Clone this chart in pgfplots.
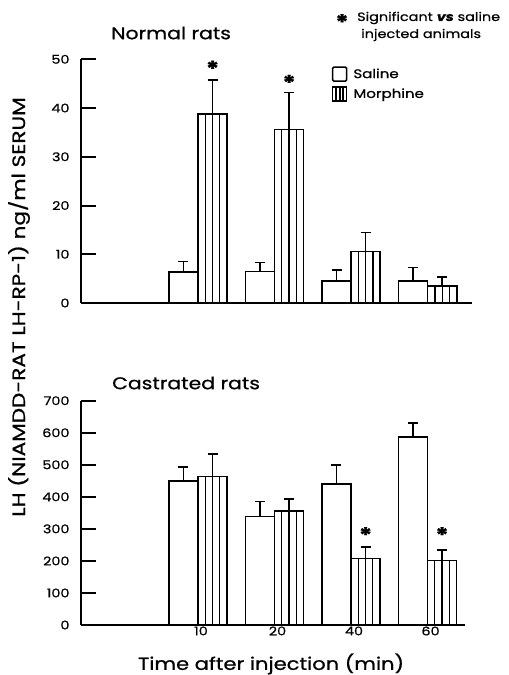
\documentclass[border=0pt]{standalone}
\usepackage{fontspec}
\setmainfont{Poppins}[FakeStretch=1.2, FakeBold=0.8]
\usepackage{pgfplots}
\usepackage{pgfplotstable}
\pgfplotsset{compat=1.18}

\pgfplotstableread{
x y e
1 6.3 2.2
2 6.5 1.8
3 4.5 2.3
4 4.5 2.8
}\topsal
\pgfplotstableread{
x y e
1 38.8 6.9
2 35.6 7.6
3 10.6 3.9
4 3.5 1.8
}\topmor
\pgfplotstableread{
x y e
1 450 44
2 338 47
3 440 59
4 586 44
}\botsal
\pgfplotstableread{
x y e
1 463 71
2 356 37
3 207 37
4 201 33
}\botmor

\pgfplotsset{
  panel/.style={
    scale only axis,
    axis x line=bottom, axis y line=left,
    axis line style={-, line width=2bp},
    major tick length=0pt,
    ytick style={draw=none},
    xmin=-0.529,
    ybar, bar width=0.38,
    clip=false,
    /pgf/number format/assume math mode=true,
    tick label style={font=\fontsize{12bp}{14bp}\selectfont},
    yticklabel style={xshift=-8bp},
    error bars/y dir=plus, error bars/y explicit,
    error bars/error bar style={line width=1.6bp},
    error bars/error mark options={rotate=90, mark size=5bp, line width=1.6bp},
  },
  sal/.style={draw=black, fill=white, line width=1.6bp, bar shift=-0.19},
  mor/.style={draw=black, fill=white, line width=1.6bp, bar shift=0.19},
  stripe/.style={draw=black, fill=none, line width=1.3bp, bar shift=0.19, forget plot},
}

\newcommand{\sig}{\textbf{*}}
\newcommand{\sigfont}{\fontsize{21bp}{21bp}\selectfont}

\begin{document}
\begin{tikzpicture}[x=1bp,y=1bp]
\useasboundingbox (0,0) rectangle (509,675);

% top panel
\begin{axis}[panel,
  at={(81bp,372bp)}, anchor=south west,
  width=391bp, height=243.7bp,
  xmax=4.58, ymin=0, ymax=50,
  xtick=\empty, ytick={0,10,...,50},
  legend style={at={(axis description cs:0.641,0.972)}, anchor=north west,
    draw=none, fill=none, font=\fontsize{12.5bp}{15bp}\selectfont,
    row sep=4bp, cells={anchor=west}, inner sep=0pt},
]
\addlegendimage{legend image code/.code={\draw[line width=1.6bp, rounded corners=1.2bp] (0bp,-7bp) rectangle (14bp,7bp);}}
\addlegendentry{\hspace{4bp}Saline}
\addlegendimage{legend image code/.code={\draw[line width=1.6bp] (0bp,-7bp) rectangle (14bp,7bp);
  \draw[line width=2bp] (3.5bp,-7bp)--(3.5bp,7bp) (7bp,-7bp)--(7bp,7bp) (10.5bp,-7bp)--(10.5bp,7bp);}}
\addlegendentry{\hspace{4bp}Morphine}
\addplot[sal, forget plot, error bars/.cd, y dir=plus, y explicit] table[x=x, y=y, y error=e] {\topsal};
\addplot[mor, forget plot, error bars/.cd, y dir=plus, y explicit] table[x=x, y=y, y error=e] {\topmor};
\addplot[stripe, bar width=0.19] table[x=x, y=y] {\topmor};
\addplot[stripe, bar width=0.0001] table[x=x, y=y] {\topmor};
\node[font=\sigfont] at (axis cs:1.19,48.1) {\sig};
\node[font=\sigfont] at (axis cs:2.19,45.2) {\sig};
\end{axis}

% bottom panel
\begin{axis}[panel,
  at={(81bp,50bp)}, anchor=south west,
  width=384bp, height=224.3bp,
  xmax=4.49, ymin=0, ymax=700,
  ytick={0,100,...,700},
  xtick={1,2,3,4}, xticklabels={10,20,40,60},
  xtick style={draw=none},
  xticklabel style={xshift=3bp, yshift=2bp},
]
\addplot[sal, forget plot, error bars/.cd, y dir=plus, y explicit] table[x=x, y=y, y error=e] {\botsal};
\addplot[mor, forget plot, error bars/.cd, y dir=plus, y explicit] table[x=x, y=y, y error=e] {\botmor};
\addplot[stripe, bar width=0.19] table[x=x, y=y] {\botmor};
\addplot[stripe, bar width=0.0001] table[x=x, y=y] {\botmor};
\node[font=\sigfont] at (axis cs:3.19,281) {\sig};
\node[font=\sigfont] at (axis cs:4.19,281) {\sig};
\end{axis}

% texts
\node[anchor=west, font=\fontsize{17bp}{20bp}\selectfont, inner sep=0] at (111,642) {Normal rats};
\node[anchor=west, font=\fontsize{17bp}{20bp}\selectfont, inner sep=0] at (112,292) {Castrated rats};
\node[font=\sigfont, inner sep=0] at (342,653) {\sig};
\node[anchor=west, font=\fontsize{12bp}{16bp}\selectfont, inner sep=0] at (357,657) {Significant \textbf{\textit{vs}} saline};
\node[anchor=west, font=\fontsize{12bp}{16bp}\selectfont, inner sep=0] at (361,640) {injected animals};
\node[rotate=90, font=\fontsize{18bp}{20bp}\selectfont, inner sep=0] at (19,368) {LH (NIAMDD-RAT LH-RP-1) ng/ml SERUM};
\node[font=\fontsize{17.5bp}{20bp}\selectfont, inner sep=0] at (271,11) {Time after injection (min)};

% inward tick marks on the y axes (axis decoration)
\draw[line width=2bp, black] (81,420.74) -- (95.5,420.74) (81,469.48) -- (95.5,469.48)
  (81,518.22) -- (95.5,518.22) (81,566.96) -- (95.5,566.96) (81,615.7) -- (95.5,615.7);
\draw[line width=2bp, black] (81,82.04) -- (95.5,82.04) (81,114.09) -- (95.5,114.09)
  (81,146.13) -- (95.5,146.13) (81,178.17) -- (95.5,178.17) (81,210.21) -- (95.5,210.21)
  (81,242.26) -- (95.5,242.26) (81,274.3) -- (95.5,274.3);
\end{tikzpicture}
\end{document}
